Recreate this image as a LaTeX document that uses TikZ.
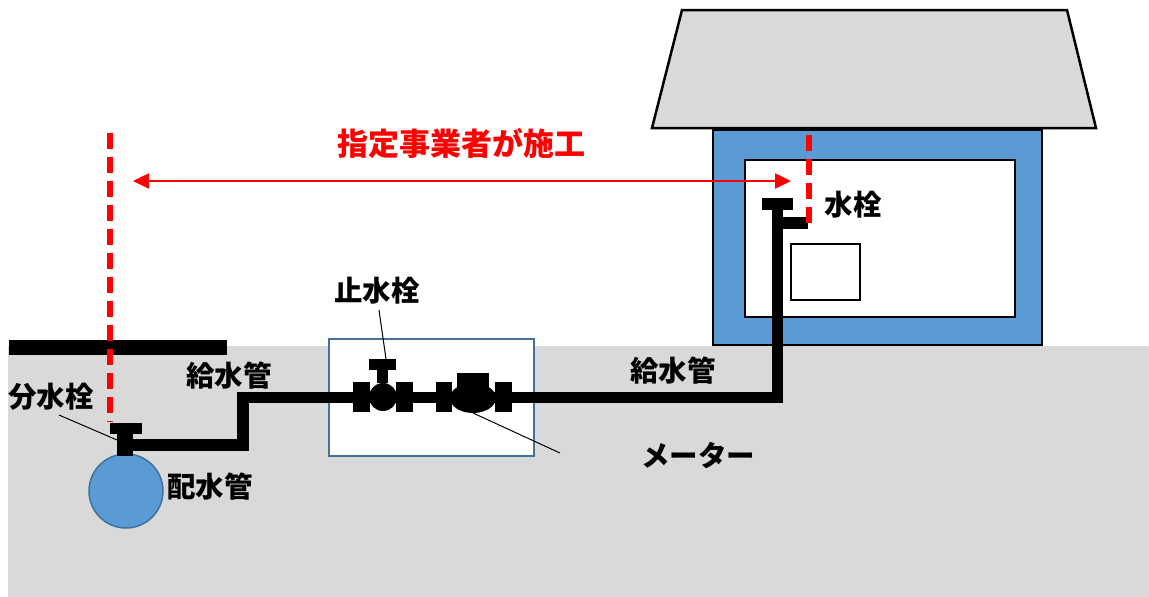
\documentclass[tikz,border=0pt]{standalone}
\usepackage{fontspec}
\newfontfamily\jp{Noto Sans CJK JP}
\usetikzlibrary{arrows.meta}
\definecolor{ground}{HTML}{D9D9D9}
\definecolor{wallblue}{HTML}{5B9BD5}
\definecolor{edgeblue}{HTML}{41719C}
\tikzset{
  lbl/.style={font=\jp\bfseries\fontsize{28.5}{30}\selectfont, inner sep=0pt},
  titlelbl/.style={font=\jp\bfseries\fontsize{31}{33}\selectfont, inner sep=0pt, text=red},
  pipe/.style={line width=11.5pt, line join=miter},
  redash/.style={red, line width=5.5pt, dash pattern=on 16pt off 8pt},
  leader/.style={line width=1pt},
  redarrow/.style={red, line width=2.5pt, {Triangle[length=16pt,width=15pt]}-{Triangle[length=16pt,width=15pt]}},
}
\begin{document}
\begin{tikzpicture}[x=1pt,y=-1pt]
\useasboundingbox (0,0) rectangle (1149,597);
% ground
\fill[ground] (8,346) rectangle (1149,597);
\fill (9,340) rectangle (227,355);
% roof
\draw[fill=ground, line width=2.5pt, line join=miter] (682,10) -- (1067,10) -- (1096,128) -- (652,128) -- cycle;
% house
\draw[fill=wallblue, line width=2pt] (713,130) rectangle (1042,345);
\draw[fill=white, line width=2pt] (745,160) rectangle (1015,317);
\draw[fill=white, line width=1.5pt] (791,244) rectangle (860,300);
% valve box
\draw[edgeblue, fill=white, line width=2pt] (329,339) rectangle (534,456);
% distribution main
\draw[edgeblue, fill=wallblue, line width=1.5pt] (126,491) circle[radius=37pt];
% service pipe
\draw[pipe] (125,445) -- (243,445) -- (243,397.5) -- (777.5,397.5) -- (777.5,205);
% branch tap
\fill (110,423) rectangle (142,434);
\fill (117,434) rectangle (133,456);
% house tap
\fill (762,198) rectangle (793,210);
\fill (783,217) rectangle (808,229);
% stop valve
\fill (353,382) rectangle (370,412);
\fill (396,382) rectangle (413,412);
\fill (383,397) circle[radius=14pt];
\fill (377,369) rectangle (388,383);
\fill (369,359) rectangle (396,370);
% meter
\fill (436,382) rectangle (452,412);
\fill (495,382) rectangle (512,412);
\fill (473,398) ellipse[x radius=23pt, y radius=15pt];
\fill (457,373) rectangle (489,393);
% boundaries
\draw[redash] (110,133) -- (110,422);
\draw[redash] (809,135) -- (809,226);
% span arrow
\coordinate (arrL) at (133,181);
\coordinate (arrR) at (791,181);
\draw[redarrow] (arrL) -- (arrR);
% labels
\node[titlelbl] (work) at (461,143) {指定事業者が施工};
\node[lbl] (stopv) at (377,291) {止水栓};
\node[lbl] (tap) at (853,205) {水栓};
\node[lbl] (supL) at (229,376) {給水管};
\node[lbl] (branch) at (51,397) {分水栓};
\node[lbl] (mainp) at (210,487) {配水管};
\node[lbl] (supR) at (673,371) {給水管};
\node[lbl] (meter) at (698,455) {メーター};
% leaders
\coordinate (stopA) at (379,310);
\coordinate (stopB) at (386,359);
\coordinate (brA) at (59,415);
\coordinate (brB) at (117,440);
\coordinate (mtA) at (473,413);
\coordinate (mtB) at (560,453);
\draw[leader] (stopA) -- (stopB);
\draw[leader] (brA) -- (brB);
\draw[leader] (mtA) -- (mtB);
\end{tikzpicture}
\end{document}
